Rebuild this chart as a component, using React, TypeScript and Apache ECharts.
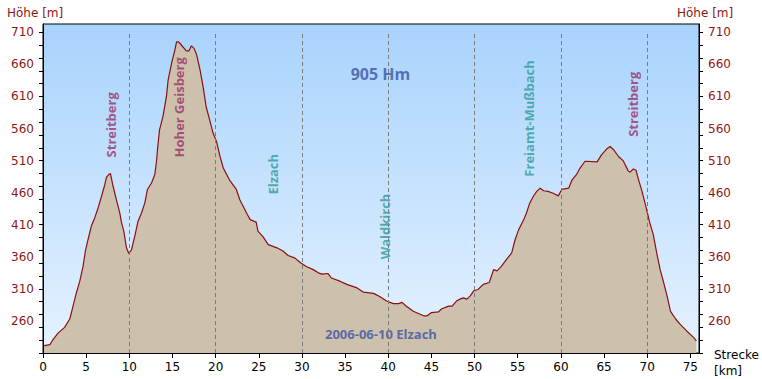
import React, { useEffect, useRef } from "react";
import * as echarts from "echarts";

// Elevation profile (distance in km, elevation in m)
const distanceKm = [
  0, 0.8, 1.16, 1.74, 2.5, 3.1, 3.48, 3.87, 4.26, 4.64, 4.91, 5.22, 5.6, 6.0, 6.38, 6.77, 7.15, 7.35, 7.6, 7.81,
  8.12, 8.5, 8.9, 9.1, 9.36, 9.67, 9.94, 10.25, 10.63, 11.0, 11.4, 11.8, 12.1, 12.57, 12.95, 13.15, 13.3, 13.5,
  13.9, 14.3, 14.5, 14.9, 15.27, 15.47, 15.7, 15.85, 16.6, 16.9, 17.2, 17.5, 17.8, 18.2, 18.55, 18.9, 19.3, 19.7,
  20.1, 20.5, 20.9, 21.6, 22.4, 22.8, 23.6, 24.0, 24.7, 24.9, 25.5, 26.1, 27.1, 27.8, 28.4, 29.2, 29.8, 30.5,
  31.3, 31.9, 32.3, 33.0, 33.4, 34.4, 35.2, 36.3, 37.1, 38.3, 39.0, 39.8, 40.6, 41.2, 41.6, 42.1, 42.9, 44.1,
  44.5, 45.0, 45.8, 46.2, 47.0, 47.4, 47.9, 48.3, 48.7, 49.1, 49.5, 49.9, 50.4, 51.0, 51.7, 52.2, 52.6, 53.1,
  53.7, 54.3, 54.7, 55.1, 55.7, 56.0, 56.4, 56.8, 57.2, 57.6, 58.0, 58.5, 59.1, 59.7, 60.1, 60.9, 61.3, 61.8,
  62.2, 62.8, 64.2, 64.7, 65.3, 65.7, 66.1, 66.7, 67.2, 67.8, 68.0, 68.4, 68.7, 69.0, 69.4, 69.8, 70.3, 70.7,
  71.1, 71.5, 71.9, 72.3, 72.7, 73.3, 73.8, 74.6, 75.4, 75.7,
];
const elevationM = [
  221, 223, 231, 241, 250, 263, 283, 304, 322, 345, 369, 387, 408, 421, 436, 454, 472, 484, 488, 490,
  470, 449, 428, 413, 400, 374, 365, 371, 392, 415, 428, 444, 465, 475, 488, 509, 532, 558,
  579, 610, 636, 662, 682, 695, 695, 693, 681, 681, 689, 685, 675, 651, 625, 594, 574, 553,
  540, 517, 498, 480, 465, 449, 428, 418, 414, 400, 391, 379, 374, 369, 362, 358, 351, 345,
  340, 335, 333, 334, 327, 322, 317, 312, 305, 303, 298, 291, 287, 287, 289, 283, 275, 268,
  268, 273, 274, 279, 283, 283, 291, 294, 296, 294, 299, 307, 309, 317, 320, 340, 338, 345,
  356, 366, 387, 402, 418, 428, 444, 454, 462, 467, 463, 462, 459, 455, 465, 467, 480, 488,
  498, 509, 508, 519, 528, 532, 527, 516, 510, 494, 492, 497, 495, 480, 462, 441, 413, 395,
  366, 340, 320, 299, 275, 263, 255, 244, 234, 229,
];

const xTickValues = [0, 5, 10, 15, 20, 25, 30, 35, 40, 45, 50, 55, 60, 65, 70, 75];
const yTickValues = [
  210, 230, 250, 270, 290, 310, 330, 350, 370, 390, 410, 430, 450, 470, 490, 510, 530, 550, 570, 590, 610,
  630, 650, 670, 690, 710,
];
const yLabelValues = [260, 310, 360, 410, 460, 510, 560, 610, 660, 710];
const xMin = 0;
const xMax = 76;
const yMin = 210;
const yMax = 723;

const guideKm = [10, 20, 30, 40, 50, 60, 70];
const guideTopM = 710;

const placeNames = ["Streitberg", "Hoher Geisberg", "Elzach", "Waldkirch", "Freiamt-Mußbach", "Streitberg"];
const placeKm = [7.83, 15.8, 26.6, 39.65, 56.3, 68.4];
const placeBaseM = [515, 515, 457, 356, 485, 547];
const placeKinds = ["peak", "peak", "town", "town", "town", "peak"];

const climbText = "905 Hm";
const climbAt = [39.1, 645];
const tourText = "2006-06-10 Elzach";
const tourAt = [39.15, 239];

const yAxisTitle = "Höhe [m]";
const xAxisTitle = ["Strecke", "[km]"];

export default function App() {
  const ref = useRef<HTMLDivElement>(null);

  useEffect(() => {
    if (!ref.current) return;
    const chart = echarts.init(ref.current, undefined, { renderer: "svg" });

    const axisRed = "#8e1616";
    const kindColor: Record<string, string> = { peak: "#9b2f66", town: "#2f9a98" };
    const profile = distanceKm.map((d, i) => [d, elevationM[i]]);

    const makeY = (position: "left" | "right") => ({
      type: "value",
      position,
      min: yMin,
      max: yMax,
      z: 10,
      axisLine: { show: true, lineStyle: { color: "#000", width: 1 } },
      axisTick: { show: true, inside: false, length: 4, lineStyle: { color: "#000" }, customValues: yTickValues },
      axisLabel: {
        color: axisRed,
        fontFamily: "DejaVu Sans",
        fontSize: 12,
        margin: 9,
        customValues: yLabelValues,
      },
      splitLine: { show: false },
    });

    chart.setOption({
      animation: false,
      grid: {
        left: 43,
        right: 63,
        top: 24,
        bottom: 26,
        containLabel: false,
        outerBoundsMode: "none",
        show: true,
        borderColor: "#000",
        borderWidth: 1,
        backgroundColor: new echarts.graphic.LinearGradient(0, 0, 0, 1, [
          { offset: 0, color: "#a8d3fd" },
          { offset: 1, color: "#e5f2ff" },
        ]),
      },
      xAxis: {
        type: "value",
        min: xMin,
        max: xMax,
        z: 10,
        axisLine: { show: true, onZero: false, lineStyle: { color: "#000", width: 1 } },
        axisTick: { show: true, length: 5, lineStyle: { color: "#000" }, customValues: xTickValues },
        axisLabel: {
          color: "#000",
          fontFamily: "DejaVu Sans",
          fontSize: 12,
          margin: 8,
          customValues: xTickValues,
        },
        splitLine: { show: false },
      },
      yAxis: [makeY("left"), makeY("right")],
      graphic: [
        {
          type: "text",
          x: 7,
          y: 13,
          style: { text: yAxisTitle, fill: axisRed, font: "12px 'DejaVu Sans'", verticalAlign: "middle" },
        },
        {
          type: "text",
          x: 677,
          y: 13,
          style: { text: yAxisTitle, fill: axisRed, font: "12px 'DejaVu Sans'", verticalAlign: "middle" },
        },
        {
          type: "text",
          x: 714,
          y: 355,
          style: { text: xAxisTitle[0], fill: "#000", font: "12px 'DejaVu Sans'", verticalAlign: "middle" },
        },
        {
          type: "text",
          x: 714,
          y: 371,
          style: { text: xAxisTitle[1], fill: "#000", font: "12px 'DejaVu Sans'", verticalAlign: "middle" },
        },
      ],
      series: [
        {
          type: "line",
          z: 1,
          silent: true,
          symbol: "none",
          data: guideKm.map((k) => [k, yMin]),
          lineStyle: { opacity: 0 },
          markLine: {
            silent: true,
            symbol: ["none", "none"],
            label: { show: false },
            lineStyle: { color: "#7c7c7c", type: [4, 3], width: 1 },
            data: guideKm.map((k) => [{ coord: [k, yMin] }, { coord: [k, guideTopM] }]),
          },
        },
        {
          type: "line",
          z: 2,
          silent: true,
          symbol: "none",
          data: profile,
          lineStyle: { color: "#8a1010", width: 1.2 },
          areaStyle: { color: "#cdc1ad", opacity: 1, origin: "start" },
        },
        {
          type: "scatter",
          z: 3,
          silent: true,
          symbolSize: 0,
          data: placeNames.map((n, i) => ({
            name: n,
            value: [placeKm[i], placeBaseM[i]],
            label: { color: kindColor[placeKinds[i]] },
          })),
          label: {
            show: true,
            formatter: "{b}",
            position: [0, 0],
            rotate: 90,
            align: "left",
            verticalAlign: "middle",
            fontFamily: "Open Sans",
            fontWeight: "bold",
            fontSize: 13,
          },
        },
        {
          type: "scatter",
          z: 3,
          silent: true,
          symbolSize: 0,
          data: [
            { name: climbText, value: climbAt, label: { fontSize: 16 } },
            { name: tourText, value: tourAt, label: { fontSize: 13 } },
          ],
          label: {
            show: true,
            formatter: "{b}",
            position: [0, 0],
            align: "center",
            verticalAlign: "middle",
            color: "#3a52a3",
            fontFamily: "Open Sans",
            fontWeight: "bold",
          },
        },
      ],
    });

    return () => chart.dispose();
  }, []);

  return (
    <div
      ref={ref}
      style={{ position: "absolute", left: 0, top: 0, width: 762, height: 379 }}
    />
  );
}
